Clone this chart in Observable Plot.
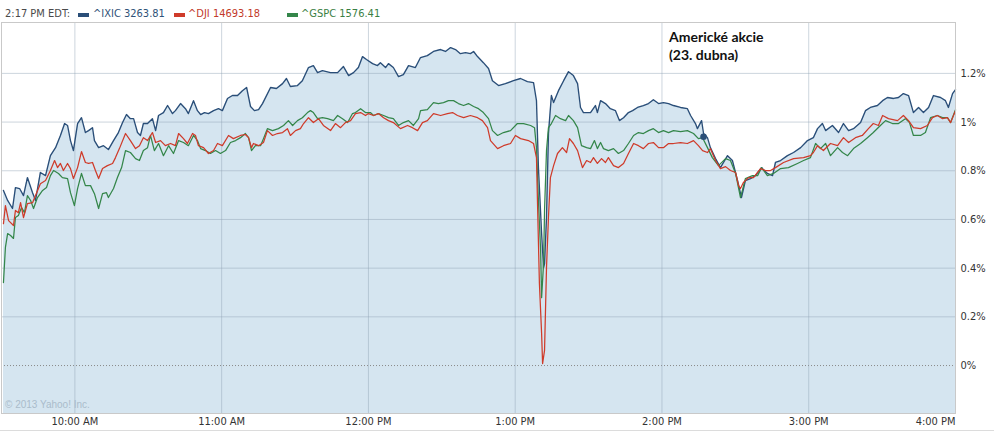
<!DOCTYPE html>
<html><head><meta charset="utf-8">
<script src="https://cdn.jsdelivr.net/npm/d3@7"></script>
<script src="https://cdn.jsdelivr.net/npm/@observablehq/plot@0.6"></script>
<style>
html,body{margin:0;padding:0;background:#fff;}
#wrap{position:relative;width:994px;height:431px;overflow:hidden;font-family:"DejaVu Sans Condensed","DejaVu Sans",sans-serif;}
#legend{position:relative;height:21px;font-size:11px;line-height:11px;}
#legend .txt{position:absolute;top:8px;white-space:nowrap;}
#legend .sw{position:absolute;top:12.5px;width:11px;height:4px;}
#chart{position:absolute;left:0;top:21px;}
#bottomline{position:absolute;left:0;top:430px;width:994px;height:1px;background:#dcdcdc;}
#title{position:absolute;left:669px;top:28px;font-family:Lato,"Open Sans",sans-serif;font-weight:bold;font-size:14px;line-height:18px;color:#111;white-space:nowrap;}
#copy{position:absolute;left:5px;top:400px;font-family:"Liberation Sans",Arial,sans-serif;font-size:10px;line-height:10px;color:#aabccb;white-space:nowrap;}
</style></head>
<body>
<div id="wrap">
  <div id="legend"></div>
  <div id="chart"></div>
  <div id="title"></div>
  <div id="copy"></div>
  <div id="bottomline"></div>
</div>
<script>
// ---- data (minutes after 9:30 AM, percent change) ----
const ixicMin = [0.8,2.5,4.5,5.7,7.4,9.0,10.6,12.7,13.9,15.9,18.0,20.0,22.1,24.1,25.8,27.0,28.2,29.4,31.1,32.7,34.3,35.6,37.2,38.0,39.7,41.7,43.7,45.8,47.8,49.5,51.1,52.7,54.0,55.6,56.8,58.0,59.7,61.7,63.0,64.2,66.2,67.9,69.9,71.1,73.2,75.2,76.4,78.5,80.1,81.4,83.0,84.6,86.7,88.7,90.3,92.4,94.4,96.5,98.5,100.2,101.8,103.4,105.1,106.7,110.0,112.4,114.9,116.5,118.1,121.0,123.0,125.5,127.5,129.2,131.2,134.5,137.4,139.8,141.9,143.9,145.9,147.6,149.2,151.7,153.7,154.9,157.0,158.2,160.2,162.3,164.3,166.4,169.2,171.3,174.1,176.6,179.5,181.5,183.6,185.6,187.6,189.7,191.7,193.0,194.6,197.0,199.1,200.7,203.2,206.0,209.3,212.2,215.0,217.5,218.7,219.5,220.8,221.6,222.0,222.8,223.6,224.8,225.7,227.7,229.8,231.8,233.8,235.5,236.7,237.9,240.8,242.8,243.6,244.9,246.9,248.9,251.0,252.6,254.3,256.3,258.0,260.0,262.4,264.5,266.5,268.6,270.6,272.7,274.7,277.6,280.4,281.7,283.7,284.5,286.2,287.0,288.6,289.8,291.9,293.9,296.8,298.8,300.9,302.5,304.1,306.2,308.2,310.7,313.1,315.2,316.4,318.5,321.3,323.8,326.7,329.5,331.9,333.6,335.6,336.9,339.7,342.2,344.2,346.3,348.3,351.2,353.2,355.2,358.1,360.2,362.2,364.7,366.7,368.7,370.8,372.8,374.9,376.9,379.0,381.0,383.9,385.9,387.1,388.8,390.0];
const ixicPct = [0.719,0.678,0.645,0.731,0.727,0.698,0.772,0.710,0.678,0.793,0.780,0.862,0.895,0.945,0.994,0.986,0.924,0.883,0.994,1.018,0.957,0.965,0.977,0.924,0.895,0.903,0.887,0.924,0.957,0.998,1.031,1.014,1.014,0.957,0.945,0.994,0.994,1.014,0.965,1.027,1.039,1.068,1.035,1.047,1.076,1.055,1.035,1.088,1.047,1.031,1.039,1.035,1.047,1.055,1.047,1.097,1.109,1.109,1.129,1.142,1.064,1.047,1.051,1.076,1.142,1.138,1.158,1.179,1.146,1.150,1.170,1.224,1.232,1.203,1.211,1.203,1.203,1.228,1.191,1.203,1.224,1.269,1.257,1.240,1.232,1.244,1.224,1.240,1.224,1.187,1.195,1.232,1.224,1.265,1.273,1.290,1.298,1.290,1.306,1.298,1.281,1.285,1.281,1.290,1.269,1.244,1.220,1.170,1.150,1.158,1.170,1.179,1.166,1.162,1.088,0.813,0.542,0.402,0.419,0.608,0.953,1.109,1.080,1.129,1.170,1.207,1.191,1.158,1.060,1.039,1.039,1.068,1.039,1.088,1.076,1.055,1.047,1.006,1.018,1.039,1.047,1.060,1.068,1.076,1.092,1.076,1.080,1.076,1.068,1.060,1.055,1.027,0.994,0.973,1.006,0.953,0.936,0.895,0.850,0.813,0.862,0.842,0.760,0.690,0.760,0.768,0.780,0.813,0.789,0.780,0.834,0.842,0.862,0.875,0.895,0.924,0.936,0.973,0.994,0.965,0.986,0.957,0.994,0.965,0.973,0.998,1.047,1.060,1.068,1.088,1.101,1.097,1.101,1.117,1.109,1.039,1.060,1.039,1.060,1.109,1.101,1.088,1.060,1.117,1.133];

const djiMin = [0.8,1.6,2.9,4.9,5.7,6.9,7.8,9.0,10.6,12.7,13.9,15.9,18.0,20.0,21.7,22.9,24.1,25.3,27.0,28.2,29.4,31.1,32.7,34.3,35.6,37.2,38.4,39.7,41.3,43.3,45.4,46.6,48.2,50.7,52.7,54.8,56.4,58.0,59.7,61.7,63.0,65.0,67.0,69.1,71.1,72.4,74.4,76.0,78.1,79.3,80.5,82.6,84.6,86.7,88.3,90.3,92.8,94.8,97.7,99.7,101.0,102.2,103.0,105.1,107.1,108.7,110.8,112.8,114.9,116.9,118.1,120.2,122.2,123.5,125.5,127.5,129.6,131.6,134.5,136.5,138.6,140.6,142.7,144.7,146.8,148.8,150.0,152.1,154.1,156.2,158.2,160.2,163.1,166.0,168.0,170.1,172.1,174.1,176.6,179.5,182.3,184.4,186.4,188.9,191.7,194.6,196.6,198.7,199.9,202.8,205.2,208.1,210.1,212.2,215.4,217.5,218.7,219.1,219.9,220.8,221.2,222.0,222.8,223.6,224.4,225.7,227.3,229.3,231.0,232.2,233.8,235.5,237.5,239.2,240.8,242.0,243.6,245.3,246.9,248.1,250.2,252.2,254.3,256.3,258.4,260.4,262.4,264.5,266.5,268.6,270.6,272.7,274.7,277.6,280.4,282.9,284.9,286.6,288.6,289.8,291.9,293.9,296.0,298.0,300.1,301.3,302.1,303.3,305.4,307.4,310.3,312.3,314.4,316.4,319.7,323.8,327.9,330.7,331.9,333.6,336.0,338.9,341.8,344.2,346.3,349.1,351.9,354.4,356.4,358.5,360.2,362.6,366.3,368.7,370.8,372.8,375.7,378.5,380.6,382.6,384.7,386.7,388.0,390.0];
const djiPct = [0.583,0.657,0.595,0.575,0.637,0.628,0.669,0.608,0.665,0.669,0.698,0.747,0.760,0.801,0.842,0.813,0.830,0.801,0.830,0.809,0.768,0.813,0.879,0.834,0.830,0.834,0.801,0.768,0.809,0.821,0.830,0.854,0.891,0.953,0.924,0.891,0.903,0.936,0.924,0.957,0.916,0.924,0.903,0.912,0.903,0.953,0.932,0.912,0.953,0.945,0.903,0.895,0.871,0.883,0.912,0.903,0.945,0.932,0.945,0.949,0.936,0.895,0.912,0.903,0.916,0.965,0.945,0.953,0.957,0.973,0.945,0.965,0.973,0.994,1.018,0.998,1.014,0.986,0.965,0.994,0.977,0.998,1.006,1.035,1.039,1.027,1.035,1.027,1.035,1.018,1.006,0.998,0.973,0.986,0.977,0.965,0.998,1.006,1.035,1.027,1.035,1.039,1.027,1.018,1.027,1.018,1.006,0.977,0.924,0.891,0.903,0.912,0.945,0.932,0.924,0.912,0.854,0.678,0.337,0.131,0.008,0.062,0.402,0.608,0.772,0.821,0.871,0.895,0.875,0.932,0.912,0.883,0.813,0.842,0.834,0.854,0.830,0.850,0.834,0.854,0.821,0.813,0.830,0.871,0.912,0.903,0.891,0.912,0.916,0.895,0.895,0.912,0.912,0.916,0.912,0.924,0.903,0.883,0.875,0.891,0.842,0.809,0.817,0.801,0.793,0.739,0.727,0.752,0.772,0.772,0.809,0.801,0.801,0.813,0.834,0.850,0.854,0.862,0.875,0.903,0.883,0.912,0.903,0.936,0.916,0.936,0.945,0.973,0.994,0.986,1.027,1.014,1.006,1.027,1.006,0.977,0.973,0.986,1.018,1.027,1.014,1.018,0.998,1.047];

const gspcMin = [0.8,1.6,2.5,3.7,4.9,5.7,6.9,8.2,9.4,10.6,11.9,13.1,14.7,16.8,18.4,20.0,21.3,23.3,24.9,27.0,28.2,29.8,31.1,32.7,34.3,36.4,38.0,39.7,41.3,42.9,43.7,45.8,47.4,49.1,50.7,52.7,54.8,56.4,58.0,59.7,60.9,62.5,64.2,66.2,68.3,70.3,72.4,74.4,76.4,78.5,80.1,81.4,83.4,85.4,87.5,89.5,91.6,93.6,95.7,97.7,99.7,101.0,102.2,103.8,105.9,107.1,108.7,110.8,113.2,115.3,117.3,119.0,121.0,123.0,125.1,126.3,127.5,129.2,131.2,133.3,135.7,137.4,139.4,141.5,143.5,144.7,146.8,148.8,150.8,152.1,154.1,156.2,158.2,160.2,162.3,164.3,166.4,168.4,170.5,171.3,174.1,176.6,178.6,180.7,182.7,184.8,186.8,188.9,190.9,193.0,195.0,197.0,199.1,200.7,202.8,205.2,208.1,210.9,213.4,216.3,217.9,218.7,219.5,220.4,220.8,221.6,222.0,222.8,223.6,224.8,226.5,228.5,230.6,231.8,233.8,235.5,237.1,239.2,240.8,242.4,243.6,244.9,246.1,248.1,250.2,252.2,254.3,256.3,258.4,260.4,262.4,264.5,266.5,268.6,270.6,272.7,274.7,277.6,280.4,282.9,284.9,286.6,288.6,290.6,293.1,296.0,298.0,300.1,302.1,304.1,307.0,309.1,310.7,313.1,315.6,318.5,321.7,325.4,327.9,330.7,332.8,334.8,336.9,338.9,341.8,343.8,345.9,348.3,351.2,354.0,356.4,359.3,361.4,364.2,366.7,369.5,371.2,372.8,375.7,377.7,379.8,382.6,384.7,386.7,388.0,390.0];
const gspcPct = [0.341,0.485,0.542,0.534,0.522,0.608,0.616,0.649,0.628,0.698,0.678,0.645,0.690,0.719,0.731,0.780,0.801,0.789,0.772,0.768,0.710,0.657,0.727,0.789,0.739,0.739,0.706,0.645,0.706,0.710,0.690,0.727,0.772,0.813,0.883,0.875,0.850,0.842,0.883,0.895,0.945,0.883,0.912,0.862,0.903,0.871,0.924,0.916,0.903,0.945,0.924,0.891,0.883,0.871,0.883,0.871,0.883,0.916,0.924,0.936,0.953,0.936,0.883,0.903,0.903,0.932,0.973,0.965,0.973,0.986,1.006,0.986,1.006,1.018,1.039,1.047,1.039,1.014,1.018,1.014,1.006,1.027,1.014,0.998,1.035,1.039,1.055,1.039,1.039,1.027,1.035,1.027,1.018,1.014,0.986,0.998,1.006,0.986,1.014,1.047,1.051,1.080,1.076,1.080,1.088,1.088,1.076,1.068,1.076,1.064,1.055,1.039,1.014,0.965,0.945,0.957,0.965,0.994,0.994,0.986,0.977,0.895,0.678,0.472,0.279,0.419,0.637,0.883,0.977,0.994,1.027,1.014,1.006,1.027,1.006,0.977,0.903,0.895,0.891,0.924,0.891,0.916,0.891,0.883,0.891,0.871,0.883,0.912,0.945,0.957,0.953,0.965,0.973,0.957,0.965,0.957,0.965,0.961,0.965,0.953,0.932,0.936,0.895,0.854,0.821,0.850,0.842,0.789,0.690,0.768,0.780,0.780,0.813,0.780,0.789,0.809,0.813,0.830,0.842,0.854,0.912,0.891,0.912,0.862,0.895,0.875,0.862,0.891,0.912,0.936,0.957,0.986,1.006,0.994,0.994,1.014,0.998,0.945,0.945,0.957,1.018,1.027,1.018,1.018,0.998,1.051];

// current-quote marker on ^IXIC (2:17 PM)
const markerMin = [287];
const markerPct = [0.94];

// legend / labels
const quoteTime = "2:17 PM EDT:";
const seriesNames = ["^IXIC", "^DJI", "^GSPC"];
const seriesQuotes = ["3263.81", "14693.18", "1576.41"];
const tickHours = [10, 11, 12, 13, 14, 15, 16];
const tickLabels = ["10:00 AM", "11:00 AM", "12:00 PM", "1:00 PM", "2:00 PM", "3:00 PM", "4:00 PM"];
const yTickValues = [0, 0.2, 0.4, 0.6, 0.8, 1.0, 1.2];
const titleLines = ["Americké akcie", "(23. dubna)"];
const copyright = "© 2013 Yahoo! Inc.";

// ---- styles ----
const colors = ["#2a4e78", "#cf3b2a", "#34864a"];
const legendColors = ["#2f5278", "#c23a2a", "#3a7f44"];
const textColor = "#333";
const yMin = -0.197, yMax = 1.409;

const base = new Date(2013, 3, 23, 9, 30);
const t = m => new Date(base.getTime() + m * 60000);
const mk = (mins, vals) => mins.map((m, i) => ({time: t(m), pct: vals[i]}));
const ixic = mk(ixicMin, ixicPct);
const dji = mk(djiMin, djiPct);
const gspc = mk(gspcMin, gspcPct);
const marker = mk(markerMin, markerPct);
const hourDates = tickHours.map(h => new Date(2013, 3, 23, h, 0));
const labelOf = new Map(tickHours.map((h, i) => [h, tickLabels[i]]));
const fmtPct = d => d3.format(".1~f")(d) + "%";

const chart = Plot.plot({
  width: 994, height: 409,
  marginTop: 1, marginBottom: 17, marginLeft: 1, marginRight: 39,
  style: {fontFamily: '"DejaVu Sans Condensed","DejaVu Sans",sans-serif', fontSize: "11px", color: textColor, background: "transparent", overflow: "visible"},
  x: {type: "time", domain: [t(0), t(390)], axis: null},
  y: {domain: [yMin, yMax], axis: null},
  marks: [
    Plot.areaY(ixic, {x: "time", y1: yMin, y2: "pct", fill: "#d5e5f0"}),
    Plot.ruleY(yTickValues.filter(d => d > 0), {stroke: "#8ea1b3", strokeOpacity: 0.45}),
    Plot.ruleY([0], {stroke: "#8a8a8a", strokeDasharray: "1,2"}),
    Plot.ruleX(hourDates.slice(0, -1), {stroke: "#8ea1b3", strokeOpacity: 0.45}),
    Plot.lineY(ixic, {x: "time", y: "pct", stroke: colors[0], strokeWidth: 1.35}),
    Plot.lineY(gspc, {x: "time", y: "pct", stroke: colors[2], strokeWidth: 1.25}),
    Plot.lineY(dji, {x: "time", y: "pct", stroke: colors[1], strokeWidth: 1.25}),
    Plot.dot(marker, {x: "time", y: "pct", r: 3.3, fill: colors[0], stroke: null}),
    Plot.frame({stroke: "#c9c9c9"}),
    Plot.axisX(hourDates.slice(0, -1), {anchor: "bottom", tickSize: 0, tickPadding: 4, label: null, tickFormat: d => labelOf.get(d.getHours()), fill: textColor}),
    Plot.axisX(hourDates.slice(-1), {anchor: "bottom", tickSize: 0, tickPadding: 4, label: null, textAnchor: "end", tickFormat: d => labelOf.get(d.getHours()), fill: textColor}),
    Plot.axisY(yTickValues, {anchor: "right", tickSize: 0, tickPadding: 5, label: null, tickFormat: fmtPct, fill: textColor})
  ]
});
document.getElementById("chart").append(chart);

// legend
const legend = document.getElementById("legend");
const addTxt = (x, text, color) => { const s = document.createElement("span"); s.className = "txt"; s.style.left = x + "px"; s.style.color = color; s.textContent = text; legend.append(s); };
const addSw = (x, color) => { const s = document.createElement("span"); s.className = "sw"; s.style.left = x + "px"; s.style.background = color; legend.append(s); };
addTxt(5, quoteTime, "#4a4a4a");
const swX = [78, 174, 287], txtX = [93, 188, 301];
seriesNames.forEach((n, i) => { addSw(swX[i], colors[i]); addTxt(txtX[i], n + " " + seriesQuotes[i], legendColors[i]); });

document.getElementById("title").innerHTML = titleLines.join("<br>");
document.getElementById("copy").textContent = copyright;
</script>
</body></html>
